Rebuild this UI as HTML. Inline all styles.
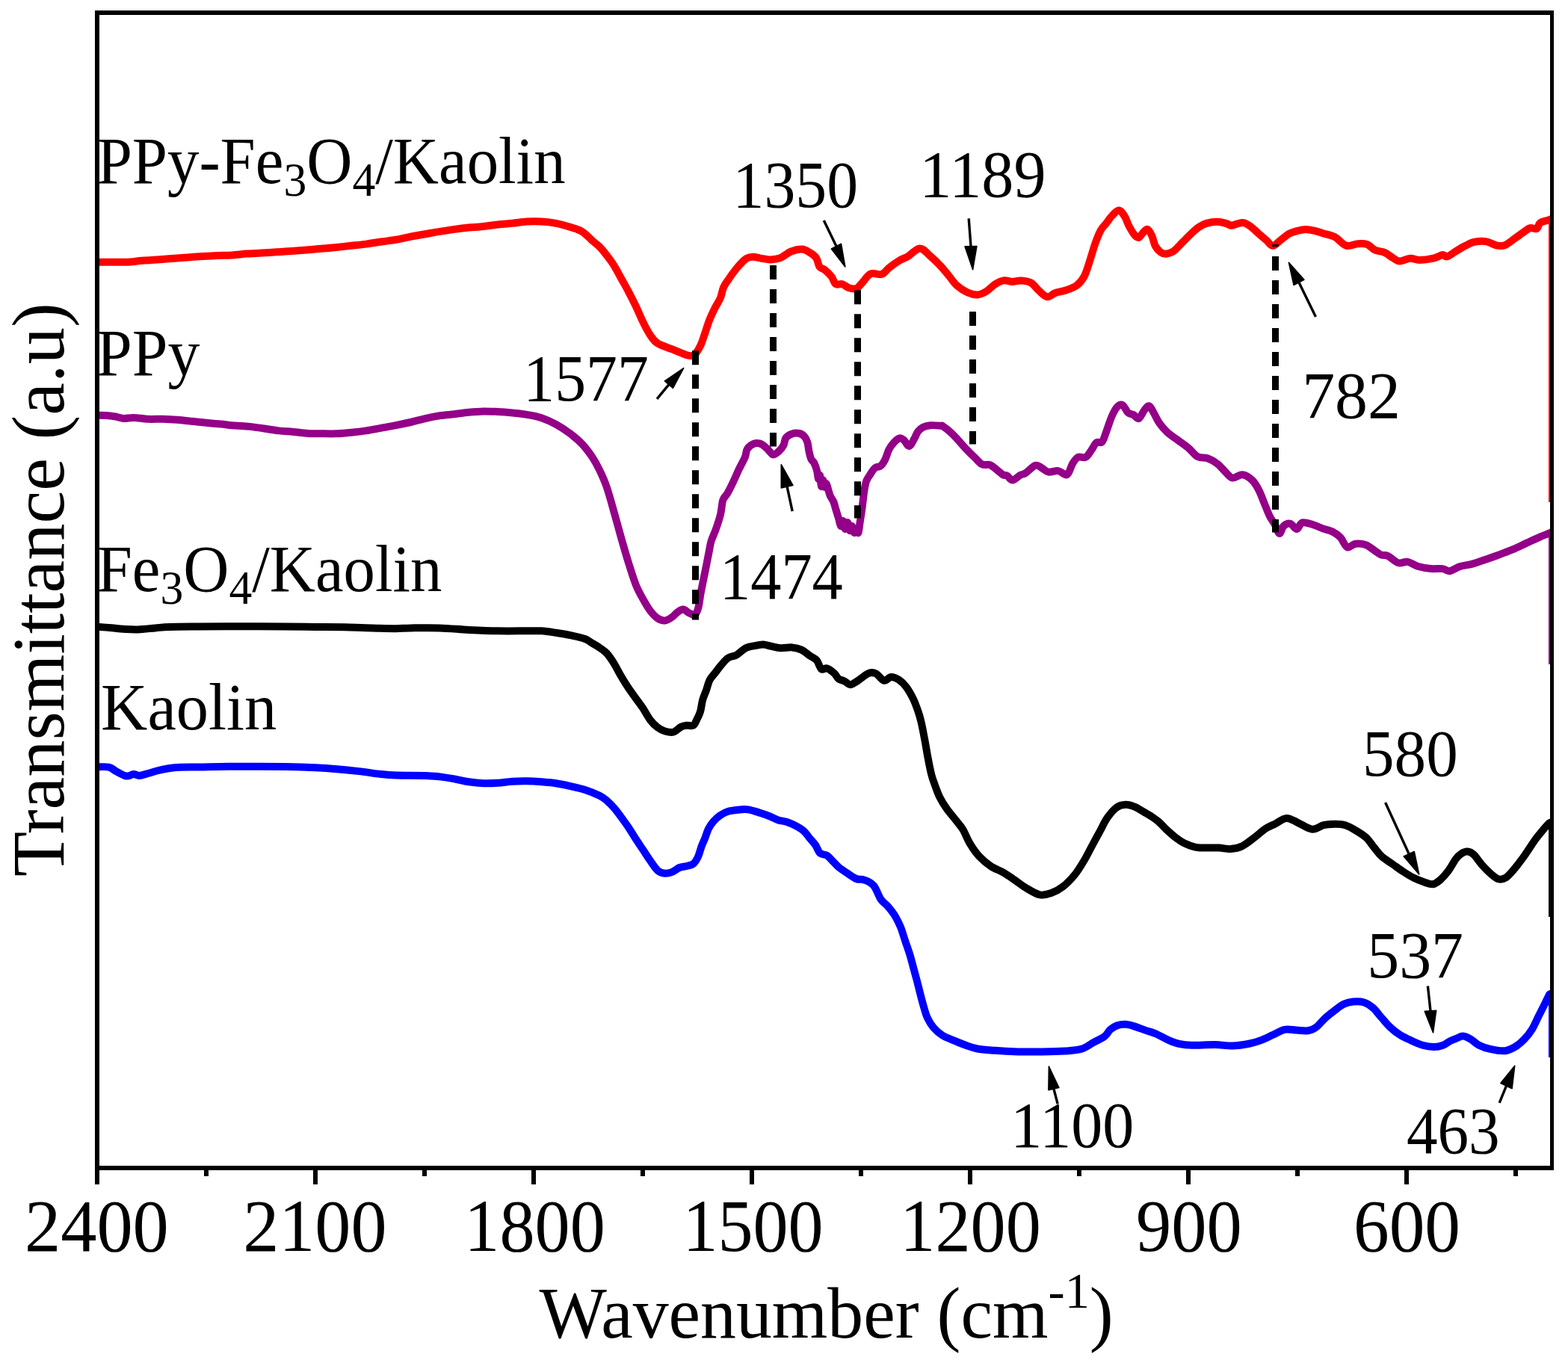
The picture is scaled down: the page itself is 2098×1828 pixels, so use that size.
<!DOCTYPE html>
<html><head><meta charset="utf-8"><title>FTIR spectra</title>
<style>
html,body{margin:0;padding:0;background:#fff;overflow:hidden;}
svg{display:block;}
text{font-family:"Liberation Serif","Times New Roman",serif;fill:#000;}
</style></head><body>
<svg width="2098" height="1828" viewBox="0 0 2098 1828">
<defs><clipPath id="pc"><rect x="133" y="20" width="1941" height="1540"/></clipPath></defs>
<rect width="2098" height="1828" fill="#fff"/>
<g clip-path="url(#pc)" fill="none" stroke-width="10" stroke-linejoin="round" stroke-linecap="butt">
<path d="M130.0,350.9 C133.3,350.9 143.3,350.7 150.0,350.7 C156.7,350.7 163.3,351.0 170.0,350.7 C176.7,350.4 183.3,349.3 190.0,348.8 C196.7,348.3 203.3,348.1 210.0,347.6 C216.7,347.1 223.3,346.4 230.0,345.9 C236.7,345.4 243.3,345.0 250.0,344.5 C256.7,344.0 263.3,343.5 270.0,343.1 C276.7,342.7 283.3,342.3 290.0,342.0 C296.7,341.7 303.3,341.8 310.0,341.4 C316.7,341.0 323.3,340.1 330.0,339.6 C336.7,339.1 343.3,338.9 350.0,338.5 C356.7,338.1 363.3,337.7 370.0,337.3 C376.7,336.9 383.3,336.5 390.0,336.0 C396.7,335.5 403.3,334.9 410.0,334.4 C416.7,333.9 423.3,333.4 430.0,332.8 C436.7,332.2 443.3,331.7 450.0,331.0 C456.7,330.3 463.3,329.5 470.0,328.8 C476.7,328.1 483.3,327.5 490.0,326.6 C496.7,325.7 503.3,324.5 510.0,323.5 C516.7,322.5 523.4,321.9 530.0,320.8 C536.6,319.7 542.9,318.0 549.4,316.7 C555.9,315.4 562.4,314.3 568.9,313.2 C575.4,312.1 581.8,310.9 588.3,309.9 C594.8,308.8 601.3,307.8 607.8,306.9 C614.3,306.0 620.7,305.2 627.2,304.6 C633.7,304.0 640.2,303.7 646.7,303.0 C653.2,302.3 659.6,301.2 666.1,300.5 C672.6,299.8 679.1,299.4 685.6,298.8 C692.1,298.2 698.5,297.0 705.0,296.6 C711.5,296.2 718.0,296.2 724.5,296.6 C731.0,297.0 737.4,297.6 743.9,298.8 C750.4,300.0 757.5,302.1 763.3,304.0 C769.1,305.9 774.0,306.9 778.9,309.9 C783.8,312.9 788.6,318.6 792.5,322.0 C796.4,325.4 799.0,327.0 802.2,330.3 C805.5,333.6 808.8,337.8 812.0,342.0 C815.2,346.2 818.5,350.4 821.7,355.6 C824.9,360.8 828.2,367.2 831.4,373.0 C834.6,378.8 837.9,384.4 841.1,390.6 C844.4,396.8 847.6,403.2 850.9,410.0 C854.1,416.8 857.4,424.9 860.6,431.4 C863.8,437.9 867.1,444.2 870.3,448.9 C873.5,453.6 875.1,456.5 880.0,459.6 C884.9,462.7 893.0,464.8 899.5,467.4 C906.0,470.0 914.4,473.8 918.9,475.2 C923.4,476.6 924.8,476.1 926.7,476.0 C928.6,475.9 928.4,476.7 930.2,474.3 C932.0,471.9 935.3,466.6 937.5,461.9 C939.7,457.1 941.3,451.4 943.3,445.8 C945.2,440.2 947.0,433.9 949.2,428.3 C951.4,422.7 954.1,417.2 956.5,412.3 C958.9,407.4 961.8,403.8 963.7,399.2 C965.6,394.6 966.2,389.0 968.1,384.6 C970.0,380.2 973.0,376.5 975.4,372.9 C977.8,369.2 980.3,365.8 982.7,362.7 C985.1,359.6 987.3,356.8 990.0,354.0 C992.7,351.2 995.9,347.6 998.8,345.9 C1001.7,344.2 1004.1,343.8 1007.5,343.8 C1010.9,343.8 1015.3,345.3 1019.2,345.9 C1023.1,346.5 1026.7,347.5 1030.8,347.4 C1034.9,347.3 1039.4,347.0 1044.0,345.2 C1048.6,343.4 1053.7,338.4 1058.5,336.5 C1063.3,334.6 1069.0,333.3 1073.1,333.5 C1077.2,333.7 1080.1,335.9 1083.3,337.9 C1086.5,339.8 1089.9,342.0 1092.1,345.2 C1094.3,348.4 1094.5,354.2 1096.5,356.9 C1098.5,359.6 1101.1,359.1 1103.8,361.3 C1106.5,363.5 1110.1,366.9 1112.5,370.0 C1114.9,373.1 1115.9,378.5 1118.3,380.2 C1120.7,381.9 1124.2,379.3 1127.1,380.2 C1130.0,381.1 1132.6,384.3 1135.8,385.3 C1139.0,386.3 1143.1,387.1 1146.0,386.0 C1148.9,384.9 1150.1,382.1 1153.3,378.8 C1156.5,375.5 1160.6,368.3 1165.0,366.4 C1169.4,364.4 1175.5,368.5 1179.6,367.1 C1183.7,365.8 1185.7,361.5 1189.8,358.3 C1193.9,355.1 1200.3,350.6 1204.4,348.1 C1208.5,345.6 1210.2,345.9 1214.6,343.3 C1219.0,340.7 1225.7,332.6 1230.6,332.4 C1235.5,332.2 1239.2,338.0 1243.8,341.9 C1248.4,345.8 1253.9,351.1 1258.3,355.7 C1262.7,360.3 1266.3,365.2 1270.0,369.6 C1273.7,374.0 1276.1,378.4 1280.2,382.0 C1284.3,385.6 1290.2,389.4 1294.8,391.5 C1299.4,393.6 1303.8,394.6 1307.9,394.4 C1312.0,394.1 1315.7,392.3 1319.6,390.0 C1323.5,387.7 1327.4,382.9 1331.3,380.5 C1335.2,378.1 1339.0,376.0 1342.9,375.4 C1346.8,374.8 1350.7,376.9 1354.6,376.9 C1358.5,376.9 1362.2,375.2 1366.3,375.4 C1370.4,375.6 1375.5,376.1 1379.4,378.3 C1383.3,380.5 1385.9,385.3 1389.6,388.5 C1393.2,391.7 1397.6,396.7 1401.3,397.3 C1405.0,397.9 1407.4,393.7 1411.5,392.2 C1415.6,390.7 1421.2,390.2 1426.0,388.5 C1430.8,386.8 1436.5,385.1 1440.6,382.0 C1444.7,378.9 1447.9,375.1 1450.8,369.6 C1453.7,364.1 1455.7,356.5 1458.1,349.2 C1460.5,341.9 1463.0,332.6 1465.4,325.8 C1467.8,319.0 1470.3,312.8 1472.7,308.3 C1475.1,303.8 1477.6,302.1 1480.0,299.0 C1482.4,295.9 1484.5,292.3 1487.3,289.4 C1490.1,286.5 1493.9,281.4 1496.8,281.4 C1499.7,281.4 1502.5,285.9 1504.8,289.4 C1507.1,292.9 1508.4,298.4 1510.6,302.5 C1512.8,306.6 1515.7,311.6 1517.9,314.2 C1520.1,316.8 1521.8,318.3 1523.7,317.8 C1525.7,317.3 1527.6,313.1 1529.6,311.3 C1531.5,309.5 1533.5,306.2 1535.4,306.9 C1537.4,307.6 1539.6,312.0 1541.3,315.6 C1543.0,319.2 1543.7,325.2 1545.6,328.8 C1547.5,332.4 1550.5,335.7 1552.9,337.5 C1555.3,339.3 1557.3,339.9 1560.2,339.7 C1563.1,339.4 1566.8,338.6 1570.4,336.0 C1574.1,333.4 1578.2,328.3 1582.1,324.4 C1586.0,320.5 1590.1,316.1 1593.8,312.7 C1597.5,309.3 1600.6,306.3 1604.0,304.0 C1607.4,301.7 1610.1,300.1 1614.2,298.9 C1618.3,297.7 1624.4,296.7 1628.8,296.7 C1633.2,296.7 1637.2,298.0 1640.4,298.9 C1643.6,299.8 1645.3,301.7 1647.7,301.8 C1650.1,301.9 1652.3,300.2 1655.0,299.6 C1657.7,299.0 1660.9,297.6 1663.8,298.1 C1666.7,298.6 1669.1,300.1 1672.5,302.5 C1675.9,304.9 1680.5,309.5 1684.2,312.7 C1687.9,315.9 1691.2,318.8 1694.4,321.5 C1697.6,324.2 1699.9,328.8 1703.1,328.8 C1706.2,328.8 1709.6,324.2 1713.3,321.5 C1717.0,318.8 1721.3,314.8 1725.0,312.7 C1728.7,310.6 1731.5,310.1 1735.2,309.1 C1738.9,308.1 1742.8,306.9 1746.9,306.9 C1751.0,306.9 1756.2,308.2 1760.0,309.1 C1763.8,310.0 1765.7,310.9 1770.0,312.2 C1774.3,313.5 1780.4,314.2 1785.6,316.9 C1790.8,319.6 1795.9,327.1 1801.1,328.6 C1806.3,330.2 1812.0,326.5 1816.7,326.2 C1821.4,325.9 1825.2,325.6 1829.1,327.0 C1833.0,328.4 1836.1,333.0 1840.0,334.8 C1843.9,336.6 1848.6,336.2 1852.5,337.9 C1856.4,339.6 1859.9,342.9 1863.3,344.9 C1866.7,346.8 1868.8,349.5 1872.7,349.6 C1876.6,349.7 1882.3,346.0 1886.7,345.7 C1891.1,345.4 1893.9,348.0 1899.1,348.0 C1904.3,348.0 1912.6,346.9 1917.8,345.7 C1923.0,344.5 1927.1,341.4 1930.2,341.0 C1933.3,340.6 1933.4,344.2 1936.5,343.3 C1939.6,342.4 1945.0,337.9 1948.9,335.6 C1952.8,333.3 1955.9,331.2 1959.8,329.3 C1963.7,327.4 1967.5,324.9 1972.2,323.9 C1976.9,322.9 1982.6,322.3 1987.8,323.1 C1993.0,323.9 1999.0,327.8 2003.4,328.6 C2007.8,329.4 2010.3,329.4 2014.2,327.8 C2018.1,326.2 2022.8,321.9 2026.7,319.2 C2030.6,316.5 2034.2,313.7 2037.6,311.4 C2041.0,309.1 2043.8,306.1 2046.9,305.2 C2050.0,304.3 2053.9,307.2 2056.2,306.0 C2058.5,304.8 2058.2,300.1 2060.9,298.2 C2063.6,296.2 2070.7,294.9 2072.6,294.3 L2077,292.3 L2077,672.0" stroke="#ff0000"/>
<path d="M130.0,555.8 C131.9,555.8 137.8,555.8 141.7,556.0 C145.6,556.2 149.4,556.6 153.3,557.3 C157.2,557.9 160.8,559.6 165.0,559.9 C169.2,560.2 173.1,558.8 178.6,558.9 C184.1,559.0 191.5,560.5 198.0,560.8 C204.5,561.1 211.0,560.6 217.5,560.8 C224.0,561.0 230.5,561.3 237.0,561.8 C243.5,562.3 249.9,563.1 256.4,563.8 C262.9,564.4 269.3,565.1 275.8,565.7 C282.3,566.3 288.8,567.0 295.3,567.6 C301.8,568.2 308.2,569.1 314.7,569.6 C321.2,570.1 327.7,570.2 334.2,570.9 C340.7,571.5 347.1,572.6 353.6,573.5 C360.1,574.4 366.6,575.7 373.1,576.4 C379.6,577.1 386.0,577.3 392.5,577.9 C399.0,578.5 405.5,579.5 412.0,579.9 C418.5,580.3 424.9,580.2 431.4,580.3 C437.9,580.4 444.4,580.6 450.9,580.3 C457.4,580.0 463.8,579.4 470.3,578.7 C476.8,578.1 483.2,577.4 489.7,576.4 C496.2,575.4 502.7,574.1 509.2,572.9 C515.7,571.7 521.9,570.6 528.6,569.3 C535.3,568.0 542.7,566.5 549.4,565.0 C556.1,563.5 562.4,561.6 568.9,560.1 C575.4,558.6 581.8,557.3 588.3,556.3 C594.8,555.3 601.3,555.0 607.8,554.3 C614.3,553.5 620.7,552.4 627.2,551.8 C633.7,551.1 640.2,550.5 646.7,550.4 C653.2,550.3 659.6,550.7 666.1,551.0 C672.6,551.3 679.1,551.8 685.6,552.4 C692.1,553.0 698.5,553.8 705.0,554.9 C711.5,556.0 718.0,557.0 724.5,559.2 C731.0,561.4 737.4,564.3 743.9,567.9 C750.4,571.5 757.5,576.2 763.3,580.6 C769.1,585.0 774.0,589.0 778.9,594.2 C783.8,599.4 788.6,605.9 792.5,611.7 C796.4,617.5 799.0,622.4 802.2,629.2 C805.5,636.0 808.8,643.1 812.0,652.5 C815.2,661.9 818.5,674.2 821.7,685.6 C824.9,697.0 828.2,709.3 831.4,720.6 C834.6,731.9 837.9,743.2 841.1,753.6 C844.4,764.0 847.6,774.7 850.9,782.8 C854.1,790.9 857.4,796.4 860.6,802.2 C863.8,808.0 867.1,813.6 870.3,817.8 C873.5,822.0 876.8,825.4 880.0,827.5 C883.2,829.6 886.5,830.7 889.7,830.4 C893.0,830.1 896.7,827.4 899.5,825.6 C902.3,823.8 903.9,821.1 906.3,819.4 C908.7,817.7 911.5,815.4 914.1,815.5 C916.7,815.6 919.3,819.0 921.9,820.2 C924.5,821.4 927.6,823.7 929.7,822.5 C931.8,821.3 933.1,817.8 934.4,813.1 C935.7,808.4 936.5,800.1 937.5,794.4 C938.5,788.7 939.6,784.0 940.6,778.8 C941.6,773.6 942.5,769.6 943.8,763.1 C945.1,756.6 947.1,746.2 948.4,739.7 C949.7,733.2 950.0,729.3 951.6,724.1 C953.2,718.9 955.7,714.4 957.8,708.4 C959.9,702.4 962.5,694.6 964.1,688.1 C965.7,681.6 965.7,674.1 967.2,669.4 C968.8,664.7 971.0,664.2 973.4,660.0 C975.8,655.8 978.7,649.9 981.3,644.4 C983.9,638.9 986.5,632.7 989.1,627.2 C991.7,621.7 995.1,616.0 996.9,611.6 C998.7,607.2 997.9,603.6 1000.0,600.6 C1002.1,597.6 1006.3,594.6 1009.4,593.6 C1012.5,592.6 1015.9,593.2 1018.8,594.4 C1021.7,595.6 1024.0,598.3 1026.6,600.6 C1029.2,602.9 1031.8,607.9 1034.4,608.4 C1037.0,608.9 1039.9,605.9 1042.2,603.8 C1044.5,601.7 1046.8,598.9 1048.4,595.9 C1050.0,592.9 1049.7,588.4 1051.6,585.8 C1053.5,583.2 1057.0,581.4 1060.0,580.4 C1063.0,579.4 1067.0,579.4 1069.7,580.0 C1072.5,580.6 1074.7,582.3 1076.5,584.3 C1078.3,586.3 1079.4,588.9 1080.4,592.1 C1081.4,595.4 1081.6,600.1 1082.4,603.8 C1083.2,607.5 1084.2,611.8 1085.3,614.4 C1086.4,617.0 1087.9,616.7 1089.2,619.3 C1090.5,621.9 1092.1,626.4 1093.1,630.0 C1094.1,633.6 1094.3,640.0 1095.0,641.0 C1095.7,642.0 1096.3,634.3 1097.0,636.0 C1097.7,637.7 1098.3,650.0 1099.0,651.0 C1099.7,652.0 1100.2,641.8 1101.0,642.0 C1101.8,642.2 1102.8,651.2 1103.5,652.0 C1104.2,652.8 1104.8,646.8 1105.5,647.0 C1106.2,647.2 1106.8,650.3 1107.6,653.0 C1108.4,655.7 1109.3,660.0 1110.6,663.1 C1111.9,666.2 1114.1,668.7 1115.4,671.8 C1116.7,674.9 1117.2,677.8 1118.3,681.5 C1119.4,685.2 1121.1,690.5 1122.2,694.2 C1123.3,698.0 1124.0,703.5 1125.0,704.0 C1126.0,704.5 1127.0,696.3 1128.0,697.0 C1129.0,697.7 1130.0,707.7 1131.0,708.0 C1132.0,708.3 1133.0,698.7 1134.0,699.0 C1135.0,699.3 1136.0,709.2 1137.0,710.0 C1138.0,710.8 1139.0,703.5 1140.0,704.0 C1141.0,704.5 1142.0,712.3 1143.0,713.0 C1144.0,713.7 1145.1,708.0 1146.0,708.0 C1146.9,708.0 1147.8,714.3 1148.5,713.0 C1149.2,711.7 1149.7,705.2 1150.5,700.0 C1151.3,694.8 1152.3,688.6 1153.3,681.5 C1154.3,674.4 1155.3,663.5 1156.3,657.2 C1157.3,650.9 1157.8,647.5 1159.2,643.6 C1160.7,639.7 1163.1,636.8 1165.0,633.9 C1166.9,631.0 1168.5,627.9 1170.8,626.1 C1173.1,624.3 1176.3,625.2 1178.6,623.2 C1180.9,621.2 1182.7,618.0 1184.5,614.4 C1186.3,610.8 1187.4,605.5 1189.3,601.8 C1191.2,598.1 1193.7,594.7 1196.1,592.1 C1198.5,589.5 1201.6,586.8 1203.9,586.3 C1206.2,585.8 1207.6,587.4 1209.7,589.2 C1211.8,591.0 1214.2,597.3 1216.5,597.0 C1218.8,596.7 1221.3,590.5 1223.3,587.2 C1225.2,584.0 1226.2,580.1 1228.2,577.5 C1230.2,574.9 1232.2,573.1 1235.0,571.7 C1237.8,570.3 1240.7,569.5 1244.7,569.2 C1248.8,568.9 1256.5,569.5 1259.3,569.7 C1262.1,569.9 1259.7,569.1 1261.5,570.3 C1263.3,571.5 1267.0,574.1 1270.2,576.9 C1273.4,579.7 1276.8,583.2 1280.4,587.1 C1284.1,591.0 1288.2,596.1 1292.1,600.2 C1296.0,604.3 1300.1,608.4 1303.8,611.9 C1307.5,615.4 1310.6,619.7 1314.0,621.4 C1317.4,623.1 1321.0,621.0 1324.2,622.1 C1327.4,623.2 1330.0,625.7 1332.9,627.9 C1335.8,630.1 1339.3,633.7 1341.7,635.2 C1344.1,636.7 1345.3,635.5 1347.5,636.7 C1349.7,637.9 1351.9,642.6 1354.8,642.5 C1357.7,642.4 1362.1,637.5 1365.0,635.9 C1367.9,634.3 1368.9,635.2 1372.3,633.0 C1375.7,630.8 1381.8,623.9 1385.4,622.8 C1389.1,621.7 1391.3,625.0 1394.2,626.5 C1397.1,628.0 1399.3,631.0 1402.9,631.6 C1406.5,632.2 1411.9,629.5 1416.0,630.1 C1420.1,630.7 1424.5,636.8 1427.7,635.2 C1430.9,633.6 1432.6,624.5 1435.0,620.6 C1437.4,616.7 1439.4,613.4 1442.3,611.9 C1445.2,610.4 1449.6,613.4 1452.5,611.9 C1455.4,610.4 1457.4,606.4 1459.8,603.1 C1462.2,599.8 1464.7,594.1 1467.1,592.2 C1469.5,590.3 1472.2,593.8 1474.4,591.5 C1476.6,589.2 1477.8,583.9 1480.0,578.3 C1482.2,572.7 1484.9,563.5 1487.3,557.9 C1489.7,552.3 1492.2,547.5 1494.6,544.8 C1497.0,542.1 1499.5,540.7 1501.9,541.9 C1504.3,543.1 1506.8,549.9 1509.2,552.1 C1511.6,554.3 1514.1,553.7 1516.5,555.0 C1518.9,556.3 1521.3,561.1 1523.7,560.1 C1526.1,559.1 1528.7,552.0 1531.0,549.2 C1533.3,546.4 1535.4,542.6 1537.6,543.3 C1539.8,544.0 1541.9,549.6 1544.2,553.5 C1546.5,557.4 1548.6,562.6 1551.5,566.7 C1554.4,570.8 1558.1,574.9 1561.7,578.3 C1565.3,581.7 1568.7,583.7 1573.3,587.1 C1577.9,590.5 1584.5,594.8 1589.4,598.8 C1594.3,602.8 1598.1,608.7 1602.5,611.1 C1606.9,613.5 1611.2,611.7 1615.6,613.3 C1620.0,614.9 1624.7,617.4 1628.8,620.6 C1632.9,623.8 1637.0,629.1 1640.4,632.3 C1643.8,635.5 1645.6,639.1 1649.2,639.6 C1652.8,640.1 1657.9,634.7 1662.3,635.2 C1666.7,635.7 1671.8,639.1 1675.4,642.5 C1679.1,645.9 1681.5,650.5 1684.2,655.6 C1686.9,660.7 1689.1,667.3 1691.5,673.1 C1693.9,678.9 1696.4,685.7 1698.8,690.6 C1701.2,695.5 1703.8,698.4 1706.0,702.3 C1708.2,706.2 1710.0,713.8 1711.9,714.0 C1713.9,714.2 1715.3,706.0 1717.7,703.8 C1720.1,701.6 1723.6,700.1 1726.5,700.8 C1729.4,701.5 1732.5,708.3 1735.2,708.1 C1737.9,707.9 1738.8,700.4 1742.5,699.4 C1746.2,698.4 1752.5,701.0 1757.1,702.3 C1761.7,703.6 1765.8,705.9 1770.0,707.4 C1774.2,708.9 1778.5,709.3 1782.4,711.3 C1786.3,713.2 1789.9,715.6 1793.3,719.1 C1796.7,722.6 1799.3,730.9 1802.7,732.3 C1806.1,733.7 1809.4,728.2 1813.6,727.7 C1817.8,727.2 1823.5,727.8 1827.6,729.2 C1831.7,730.6 1835.0,734.0 1838.4,736.2 C1841.8,738.4 1844.7,741.2 1847.8,742.5 C1850.9,743.8 1853.2,742.2 1857.1,744.0 C1861.0,745.8 1866.7,752.0 1871.1,753.3 C1875.5,754.6 1879.2,751.0 1883.6,751.8 C1888.0,752.6 1892.4,756.5 1897.6,758.0 C1902.8,759.5 1909.3,760.6 1914.7,761.1 C1920.1,761.6 1926.1,760.6 1930.2,761.1 C1934.3,761.6 1935.7,764.7 1939.6,764.2 C1943.5,763.7 1948.7,759.5 1953.6,758.0 C1958.5,756.5 1963.4,756.4 1969.1,754.9 C1974.8,753.4 1982.1,750.7 1987.8,748.7 C1993.5,746.8 1997.7,745.3 2003.4,743.2 C2009.1,741.1 2015.5,738.9 2022.0,736.2 C2028.5,733.5 2035.7,729.9 2042.2,726.9 C2048.7,723.9 2055.8,720.5 2060.9,718.3 C2066.0,716.1 2070.7,714.5 2072.6,713.7 L2077,711.7 L2077,889.0" stroke="#940088"/>
<path d="M130.0,838.9 C133.2,839.1 143.6,839.8 149.4,840.3 C155.2,840.8 159.2,841.4 165.0,841.8 C170.8,842.1 177.3,842.6 184.4,842.4 C191.5,842.2 200.7,841.0 207.8,840.4 C214.9,839.8 217.5,839.2 227.2,838.9 C236.9,838.6 249.9,838.6 266.1,838.5 C282.3,838.4 305.1,838.3 324.5,838.3 C343.9,838.3 366.6,838.4 382.8,838.5 C399.0,838.6 408.7,838.8 421.7,838.9 C434.7,839.0 449.3,839.1 460.6,839.3 C471.9,839.5 478.4,840.0 489.7,840.3 C501.0,840.6 518.6,841.2 528.6,841.2 C538.6,841.2 539.5,840.5 549.4,840.4 C559.3,840.3 575.3,840.0 588.3,840.4 C601.3,840.8 614.2,842.2 627.2,842.9 C640.2,843.5 653.1,844.1 666.1,844.3 C679.1,844.5 695.3,844.3 705.0,844.3 C714.7,844.3 718.0,843.9 724.5,844.3 C731.0,844.7 737.4,845.8 743.9,846.8 C750.4,847.8 756.8,848.7 763.3,850.1 C769.8,851.5 777.9,853.2 782.8,855.0 C787.7,856.8 789.3,858.8 792.5,860.8 C795.7,862.8 799.0,864.4 802.2,866.7 C805.5,869.0 808.8,870.8 812.0,874.4 C815.2,878.0 818.5,882.9 821.7,888.1 C824.9,893.3 828.2,900.1 831.4,905.6 C834.6,911.1 837.9,916.2 841.1,921.1 C844.4,926.0 847.6,930.2 850.9,934.7 C854.1,939.2 857.4,943.4 860.6,948.3 C863.8,953.2 867.1,959.7 870.3,963.9 C873.5,968.1 876.8,971.2 880.0,973.6 C883.2,976.0 886.1,977.5 889.7,978.5 C893.3,979.5 897.8,980.5 901.4,979.5 C905.0,978.5 908.2,974.2 911.1,972.7 C914.0,971.2 916.1,971.0 918.9,970.7 C921.7,970.4 925.5,972.0 927.8,970.7 C930.0,969.4 930.8,966.0 932.4,962.9 C934.0,959.8 935.8,956.4 937.1,952.0 C938.4,947.6 938.9,941.2 940.2,936.5 C941.5,931.8 943.3,928.4 944.9,924.0 C946.5,919.6 947.5,914.0 949.6,910.0 C951.7,906.0 954.7,903.3 957.3,899.9 C959.9,896.5 962.2,893.0 965.1,889.8 C968.0,886.5 971.0,882.6 974.4,880.4 C977.8,878.2 981.4,878.8 985.3,876.6 C989.2,874.4 993.6,869.3 997.8,867.2 C1001.9,865.1 1006.3,864.9 1010.2,864.1 C1014.1,863.3 1017.5,862.5 1021.1,862.6 C1024.7,862.7 1028.1,864.1 1032.0,864.9 C1035.9,865.7 1039.8,867.0 1044.5,867.2 C1049.2,867.5 1055.3,866.0 1060.0,866.4 C1064.7,866.8 1068.6,867.8 1072.5,869.6 C1076.4,871.4 1079.9,875.0 1083.3,877.3 C1086.7,879.6 1090.1,880.6 1092.7,883.6 C1095.3,886.6 1096.6,893.4 1098.9,895.2 C1101.2,897.0 1103.9,893.5 1106.7,894.4 C1109.5,895.3 1113.4,898.4 1116.0,900.7 C1118.6,903.1 1119.9,906.7 1122.2,908.5 C1124.5,910.3 1127.4,910.3 1130.0,911.6 C1132.6,912.9 1135.2,916.1 1137.8,916.2 C1140.4,916.3 1143.0,913.8 1145.6,912.3 C1148.2,910.8 1150.4,908.8 1153.3,906.9 C1156.2,905.0 1159.6,901.6 1162.7,900.7 C1165.8,899.8 1168.6,899.7 1172.0,901.4 C1175.4,903.1 1179.5,910.0 1182.9,910.8 C1186.3,911.6 1188.8,906.2 1192.2,906.1 C1195.6,906.0 1199.7,907.8 1203.1,910.0 C1206.5,912.2 1209.4,915.1 1212.5,919.3 C1215.6,923.4 1219.2,929.8 1221.8,934.9 C1224.3,940.0 1226.0,944.9 1227.8,950.0 C1229.6,955.1 1230.9,959.1 1232.4,965.6 C1234.0,972.1 1235.5,980.6 1237.1,988.9 C1238.7,997.2 1240.2,1007.3 1241.8,1015.3 C1243.3,1023.3 1244.9,1031.1 1246.4,1037.1 C1248.0,1043.1 1249.3,1046.2 1251.1,1051.1 C1252.9,1056.0 1254.7,1061.5 1257.3,1066.7 C1259.9,1071.9 1263.1,1077.0 1266.7,1082.2 C1270.3,1087.4 1275.5,1093.1 1279.1,1097.8 C1282.7,1102.5 1285.4,1105.0 1288.5,1110.2 C1291.6,1115.4 1294.2,1122.9 1297.8,1128.9 C1301.4,1134.9 1305.5,1141.0 1310.2,1146.0 C1314.9,1151.0 1320.3,1155.6 1325.8,1159.2 C1331.2,1162.8 1337.7,1164.8 1342.9,1167.8 C1348.1,1170.8 1352.0,1173.7 1356.9,1177.1 C1361.8,1180.5 1366.8,1184.6 1372.5,1188.0 C1378.2,1191.4 1385.4,1196.2 1391.1,1197.4 C1396.8,1198.6 1401.5,1196.8 1406.7,1195.0 C1411.9,1193.2 1417.0,1190.5 1422.2,1186.5 C1427.4,1182.5 1433.1,1176.6 1437.8,1170.9 C1442.5,1165.2 1446.3,1158.7 1450.2,1152.2 C1454.1,1145.7 1457.5,1138.7 1461.1,1132.0 C1464.7,1125.3 1468.6,1118.0 1472.0,1111.8 C1475.4,1105.6 1477.8,1099.9 1481.4,1094.7 C1485.0,1089.5 1489.7,1083.7 1493.8,1080.7 C1497.9,1077.7 1502.0,1076.9 1506.2,1076.8 C1510.4,1076.7 1514.6,1078.2 1518.7,1079.9 C1522.8,1081.6 1527.7,1084.9 1531.1,1086.9 C1534.5,1088.9 1536.1,1089.7 1539.3,1091.8 C1542.5,1093.9 1546.6,1096.5 1550.2,1099.6 C1553.8,1102.7 1557.2,1106.9 1561.1,1110.5 C1565.0,1114.1 1569.7,1118.3 1573.6,1121.3 C1577.5,1124.3 1580.0,1126.2 1584.4,1128.3 C1588.8,1130.4 1594.8,1132.8 1600.0,1133.8 C1605.2,1134.8 1610.4,1134.5 1615.6,1134.6 C1620.8,1134.7 1625.9,1134.3 1631.1,1134.6 C1636.3,1134.8 1641.5,1136.5 1646.7,1136.1 C1651.9,1135.7 1657.0,1134.7 1662.2,1132.2 C1667.4,1129.7 1672.6,1125.2 1677.8,1121.3 C1683.0,1117.4 1688.6,1112.0 1693.3,1108.9 C1698.0,1105.8 1701.1,1105.0 1705.8,1102.7 C1710.5,1100.4 1716.2,1095.2 1721.4,1094.9 C1726.6,1094.6 1731.2,1098.6 1736.9,1101.1 C1742.6,1103.6 1749.9,1109.2 1755.6,1109.7 C1761.3,1110.2 1765.9,1105.4 1771.1,1104.2 C1776.3,1103.0 1781.9,1102.7 1786.7,1102.7 C1791.5,1102.7 1795.4,1102.8 1800.0,1104.3 C1804.6,1105.8 1809.4,1108.6 1814.1,1111.4 C1818.8,1114.2 1824.0,1117.2 1828.2,1121.2 C1832.4,1125.2 1836.0,1131.1 1839.5,1135.3 C1843.0,1139.5 1845.3,1143.1 1849.3,1146.6 C1853.3,1150.1 1858.7,1153.2 1863.4,1156.5 C1868.1,1159.8 1872.8,1163.4 1877.5,1166.4 C1882.2,1169.5 1886.9,1172.5 1891.6,1174.8 C1896.3,1177.1 1901.5,1179.1 1905.7,1180.5 C1909.9,1181.9 1913.5,1183.8 1917.0,1183.3 C1920.5,1182.8 1923.4,1180.6 1926.9,1177.6 C1930.4,1174.5 1934.7,1169.7 1938.2,1165.0 C1941.7,1160.3 1945.2,1153.2 1948.0,1149.4 C1950.8,1145.6 1952.5,1144.0 1955.1,1142.4 C1957.7,1140.8 1960.7,1139.4 1963.5,1139.6 C1966.3,1139.8 1968.7,1140.8 1972.0,1143.8 C1975.3,1146.8 1979.5,1153.7 1983.3,1157.9 C1987.1,1162.1 1991.1,1166.2 1994.6,1169.2 C1998.1,1172.2 2001.1,1175.3 2004.4,1176.2 C2007.7,1177.1 2010.8,1176.9 2014.3,1174.8 C2017.8,1172.7 2021.4,1168.4 2025.6,1163.5 C2029.8,1158.6 2035.0,1151.8 2039.7,1145.2 C2044.4,1138.6 2049.6,1130.0 2053.8,1124.1 C2058.0,1118.2 2061.9,1113.8 2065.1,1110.0 C2068.3,1106.2 2071.5,1102.9 2072.8,1101.5 L2077,1099.5 L2077,1227.0" stroke="#000000"/>
<path d="M130.0,1026.4 C132.6,1026.4 141.4,1025.6 145.6,1026.6 C149.8,1027.5 151.4,1030.1 155.3,1032.1 C159.2,1034.1 165.0,1037.8 168.9,1038.5 C172.8,1039.2 175.7,1036.1 178.6,1036.0 C181.5,1035.9 183.2,1038.1 186.4,1037.9 C189.7,1037.7 193.6,1036.2 198.1,1035.0 C202.6,1033.8 207.8,1032.0 213.6,1030.7 C219.4,1029.4 224.3,1027.9 233.1,1027.2 C241.8,1026.5 254.1,1026.7 266.1,1026.4 C278.1,1026.2 292.0,1025.8 305.0,1025.7 C318.0,1025.6 330.9,1025.7 343.9,1025.7 C356.9,1025.7 369.8,1025.7 382.8,1025.9 C395.8,1026.2 410.4,1026.7 421.7,1027.2 C433.0,1027.8 441.2,1028.4 450.9,1029.2 C460.6,1030.0 470.3,1031.0 480.0,1032.1 C489.7,1033.2 500.9,1035.1 509.2,1036.0 C517.5,1036.9 520.0,1037.2 530.0,1037.5 C540.0,1037.8 559.2,1037.6 568.9,1037.9 C578.6,1038.2 581.8,1038.7 588.3,1039.4 C594.8,1040.2 601.3,1041.2 607.8,1042.4 C614.3,1043.6 620.7,1045.3 627.2,1046.3 C633.7,1047.3 640.2,1048.0 646.7,1048.2 C653.2,1048.5 659.6,1048.2 666.1,1047.8 C672.6,1047.4 679.1,1046.1 685.6,1045.7 C692.1,1045.3 698.5,1045.2 705.0,1045.3 C711.5,1045.4 718.0,1045.8 724.5,1046.3 C731.0,1046.8 737.4,1047.2 743.9,1048.2 C750.4,1049.2 756.8,1050.6 763.3,1052.1 C769.8,1053.5 776.3,1054.8 782.8,1056.9 C789.3,1059.0 797.3,1062.3 802.2,1064.7 C807.1,1067.1 808.8,1068.7 812.0,1071.5 C815.2,1074.3 818.5,1077.6 821.7,1081.3 C824.9,1085.0 828.2,1089.5 831.4,1093.9 C834.6,1098.3 837.9,1102.6 841.1,1107.5 C844.4,1112.4 847.6,1118.1 850.9,1123.1 C854.1,1128.1 857.4,1132.8 860.6,1137.6 C863.8,1142.4 867.1,1147.7 870.3,1152.2 C873.5,1156.8 876.8,1162.1 880.0,1164.9 C883.2,1167.7 886.5,1168.5 889.7,1168.8 C893.0,1169.1 896.2,1168.1 899.5,1166.8 C902.8,1165.5 906.0,1162.3 909.2,1161.0 C912.4,1159.7 915.8,1159.9 918.9,1159.0 C922.0,1158.1 925.3,1157.9 927.8,1155.8 C930.3,1153.7 932.2,1150.4 934.0,1146.5 C935.8,1142.6 937.2,1136.7 938.7,1132.5 C940.2,1128.3 941.8,1125.5 943.3,1121.6 C944.8,1117.7 946.2,1112.7 948.0,1109.1 C949.8,1105.5 951.6,1102.8 954.2,1099.8 C956.8,1096.8 960.2,1093.5 963.6,1091.2 C967.0,1088.9 970.0,1087.1 974.4,1085.8 C978.8,1084.5 985.6,1083.8 990.0,1083.4 C994.4,1083.0 997.0,1082.9 1000.9,1083.4 C1004.8,1083.9 1008.6,1085.2 1013.3,1086.6 C1018.0,1088.0 1024.2,1090.2 1028.9,1092.0 C1033.6,1093.8 1037.4,1096.1 1041.3,1097.4 C1045.2,1098.7 1048.3,1098.5 1052.2,1099.8 C1056.1,1101.1 1060.8,1103.1 1064.7,1105.2 C1068.6,1107.3 1072.5,1109.5 1075.6,1112.2 C1078.7,1114.9 1080.7,1118.5 1083.3,1121.6 C1085.9,1124.7 1088.8,1127.5 1091.1,1130.9 C1093.4,1134.3 1094.7,1139.5 1097.3,1141.8 C1099.9,1144.1 1103.8,1143.1 1106.7,1144.9 C1109.6,1146.7 1111.9,1150.1 1114.5,1152.7 C1117.1,1155.3 1119.1,1157.9 1122.2,1160.5 C1125.3,1163.1 1129.2,1165.6 1133.1,1168.2 C1137.0,1170.8 1141.7,1174.4 1145.6,1176.0 C1149.5,1177.6 1152.6,1176.1 1156.5,1177.6 C1160.4,1179.1 1165.2,1180.7 1168.9,1185.0 C1172.6,1189.3 1175.5,1198.9 1178.7,1203.6 C1181.9,1208.2 1184.9,1209.3 1188.0,1212.9 C1191.1,1216.5 1194.5,1220.6 1197.3,1225.3 C1200.1,1230.0 1202.8,1235.2 1205.1,1240.9 C1207.4,1246.6 1209.2,1253.4 1211.3,1259.6 C1213.4,1265.8 1215.8,1272.2 1217.6,1278.2 C1219.4,1284.2 1220.7,1289.6 1222.2,1295.3 C1223.8,1301.0 1225.3,1306.5 1226.9,1312.5 C1228.5,1318.5 1230.0,1325.1 1231.6,1331.1 C1233.1,1337.0 1234.7,1343.0 1236.2,1348.2 C1237.8,1353.4 1238.8,1357.8 1240.9,1362.2 C1243.0,1366.6 1245.3,1370.8 1248.7,1374.7 C1252.1,1378.6 1256.4,1382.6 1261.1,1385.6 C1265.8,1388.6 1271.5,1390.4 1276.7,1392.6 C1281.9,1394.8 1287.0,1397.0 1292.2,1398.8 C1297.4,1400.6 1301.3,1402.3 1307.8,1403.5 C1314.3,1404.7 1322.0,1405.1 1331.1,1405.8 C1340.2,1406.5 1351.8,1407.1 1362.2,1407.4 C1372.6,1407.7 1383.0,1407.5 1393.4,1407.4 C1403.8,1407.3 1415.4,1407.2 1424.5,1406.6 C1433.6,1405.9 1441.3,1405.5 1447.8,1403.5 C1454.3,1401.5 1458.4,1397.6 1463.4,1394.9 C1468.4,1392.2 1474.1,1389.9 1477.8,1387.1 C1481.5,1384.2 1482.8,1380.3 1485.6,1377.8 C1488.4,1375.3 1491.5,1373.5 1494.9,1372.3 C1498.3,1371.1 1502.2,1370.7 1505.8,1370.8 C1509.4,1370.9 1512.3,1371.8 1516.7,1373.1 C1521.1,1374.4 1527.0,1376.8 1532.2,1378.6 C1537.4,1380.4 1542.6,1381.8 1547.8,1384.0 C1553.0,1386.2 1558.1,1389.6 1563.3,1391.8 C1568.5,1394.0 1573.7,1396.0 1578.9,1397.2 C1584.1,1398.4 1586.7,1398.7 1594.5,1398.8 C1602.3,1398.9 1616.5,1397.9 1625.6,1398.0 C1634.7,1398.1 1641.1,1399.8 1648.9,1399.6 C1656.7,1399.3 1665.7,1397.8 1672.2,1396.5 C1678.7,1395.2 1682.6,1393.8 1687.8,1391.8 C1693.0,1389.8 1698.2,1387.1 1703.4,1384.8 C1708.6,1382.5 1713.7,1378.8 1718.9,1377.8 C1724.1,1376.8 1729.3,1378.3 1734.5,1378.6 C1739.7,1378.8 1745.6,1379.9 1750.0,1379.3 C1754.4,1378.7 1757.0,1377.5 1760.9,1374.7 C1764.8,1371.9 1768.7,1366.4 1773.4,1362.2 C1778.1,1358.0 1784.9,1352.8 1789.0,1349.7 C1793.1,1346.6 1794.6,1345.1 1798.1,1343.6 C1801.6,1342.1 1805.6,1341.0 1810.1,1340.6 C1814.6,1340.2 1820.7,1340.0 1825.2,1341.4 C1829.7,1342.8 1833.5,1345.6 1837.3,1348.9 C1841.1,1352.2 1844.0,1356.7 1847.8,1361.0 C1851.6,1365.3 1855.6,1370.5 1859.9,1374.5 C1864.2,1378.5 1868.6,1382.1 1873.4,1385.1 C1878.2,1388.1 1883.5,1390.3 1888.5,1392.6 C1893.5,1394.9 1898.6,1397.3 1903.6,1398.7 C1908.6,1400.1 1914.2,1400.9 1918.7,1400.9 C1923.2,1400.9 1927.2,1400.0 1930.7,1398.7 C1934.2,1397.5 1936.8,1394.9 1939.8,1393.4 C1942.8,1391.9 1945.8,1390.7 1948.8,1389.6 C1951.8,1388.5 1954.5,1386.3 1957.8,1386.6 C1961.1,1386.8 1964.9,1389.1 1968.4,1391.1 C1971.9,1393.1 1974.6,1396.6 1978.9,1398.7 C1983.2,1400.8 1988.2,1402.7 1994.0,1403.9 C1999.8,1405.2 2008.1,1406.7 2013.6,1406.2 C2019.1,1405.7 2022.9,1403.4 2027.2,1400.9 C2031.5,1398.4 2035.4,1395.0 2039.2,1391.1 C2043.0,1387.2 2046.5,1382.9 2049.8,1377.6 C2053.1,1372.3 2056.0,1365.0 2058.8,1359.5 C2061.6,1354.0 2064.0,1349.2 2066.4,1344.4 C2068.8,1339.6 2072.0,1333.1 2073.1,1330.8 L2077,1328.8 L2077,1415.0" stroke="#0000ff"/>
</g>
<g stroke="#000" stroke-width="9" stroke-dasharray="19 13" fill="none">
<line x1="930.5" y1="469.2" x2="930.5" y2="829.5" stroke-dashoffset="0.0"/>
<line x1="1034.5" y1="355.0" x2="1034.5" y2="597.5" stroke-dashoffset="0.0"/>
<line x1="1147.5" y1="388.2" x2="1147.5" y2="693.6" stroke-dashoffset="0.0"/>
<line x1="1301.5" y1="417.0" x2="1301.5" y2="594.4" stroke-dashoffset="0.0"/>
<line x1="1706.5" y1="327.0" x2="1706.5" y2="712.5" stroke-dashoffset="16.0"/>
</g>
<g stroke="#000" stroke-width="3.4" fill="#000">
<line x1="1102.3" y1="295.1" x2="1119.0" y2="329.6"/>
<polygon stroke-width="1.6" stroke-linejoin="round" points="1112.4,333.0 1130.8,357.0 1125.5,326.3"/>
<line x1="1296.2" y1="292.3" x2="1299.0" y2="329.7"/>
<polygon stroke-width="1.6" stroke-linejoin="round" points="1291.1,329.9 1301.6,360.8 1306.9,329.5"/>
<line x1="879.0" y1="533.9" x2="894.9" y2="514.6"/>
<polygon stroke-width="1.6" stroke-linejoin="round" points="889.4,509.9 914.7,492.6 900.4,519.4"/>
<line x1="1760.5" y1="424.1" x2="1738.0" y2="377.9"/>
<polygon stroke-width="1.6" stroke-linejoin="round" points="1731.1,381.5 1724.4,351.4 1744.9,374.2"/>
<line x1="1060.2" y1="684.2" x2="1053.1" y2="651.2"/>
<polygon stroke-width="1.6" stroke-linejoin="round" points="1045.3,653.0 1045.3,621.7 1060.9,649.4"/>
<line x1="1853.6" y1="1074.0" x2="1885.2" y2="1142.8"/>
<polygon stroke-width="1.6" stroke-linejoin="round" points="1878.2,1145.9 1898.7,1169.9 1892.3,1139.6"/>
<line x1="1910.4" y1="1319.5" x2="1914.0" y2="1352.8"/>
<polygon stroke-width="1.6" stroke-linejoin="round" points="1906.3,1353.4 1917.5,1381.8 1921.7,1352.2"/>
<line x1="1415.2" y1="1477.4" x2="1409.9" y2="1457.0"/>
<polygon stroke-width="1.6" stroke-linejoin="round" points="1402.9,1458.6 1403.4,1427.1 1416.9,1455.5"/>
<line x1="2006.2" y1="1475.9" x2="2015.5" y2="1453.2"/>
<polygon stroke-width="1.6" stroke-linejoin="round" points="2007.9,1449.6 2026.7,1426.3 2023.1,1456.7"/>
</g>
<g stroke="#000" stroke-width="6" fill="none" stroke-linecap="butt">
<path d="M127,17 H2079 M127,1563 H2079 M130,14 V1585" />
<path d="M2076.5,14 V1566" stroke-width="5"/>
<line x1="130" y1="1563" x2="130" y2="1585"/>
<line x1="422" y1="1563" x2="422" y2="1585"/>
<line x1="714" y1="1563" x2="714" y2="1585"/>
<line x1="1006" y1="1563" x2="1006" y2="1585"/>
<line x1="1298" y1="1563" x2="1298" y2="1585"/>
<line x1="1590" y1="1563" x2="1590" y2="1585"/>
<line x1="1882" y1="1563" x2="1882" y2="1585"/>
<line x1="276" y1="1563" x2="276" y2="1574"/>
<line x1="568" y1="1563" x2="568" y2="1574"/>
<line x1="860" y1="1563" x2="860" y2="1574"/>
<line x1="1152" y1="1563" x2="1152" y2="1574"/>
<line x1="1444" y1="1563" x2="1444" y2="1574"/>
<line x1="1736" y1="1563" x2="1736" y2="1574"/>
<line x1="2028" y1="1563" x2="2028" y2="1574"/>
</g>
<g>
<text transform="translate(129.71 244.50) scale(0.9635 1)" font-size="88">PPy-Fe<tspan font-size="64" dy="17">3</tspan><tspan dy="-17">O</tspan><tspan font-size="64" dy="17">4</tspan><tspan dy="-17">/Kaolin</tspan></text>
<text transform="translate(129.08 501.70) scale(0.9748 1)" font-size="88">PPy</text>
<text transform="translate(129.71 791.20) scale(0.9629 1)" font-size="88">Fe<tspan font-size="64" dy="17">3</tspan><tspan dy="-17">O</tspan><tspan font-size="64" dy="17">4</tspan><tspan dy="-17">/Kaolin</tspan></text>
<text transform="translate(135.06 976.00) scale(0.9813 1)" font-size="88">Kaolin</text>
<text transform="translate(980.56 277.31) scale(0.9302 0.9902)" font-size="90">1350</text>
<text transform="translate(1230.34 263.21) scale(0.9576 0.9869)" font-size="90">1189</text>
<text transform="translate(962.97 801.40) scale(0.9158 0.9900)" font-size="90">1474</text>
<text transform="translate(700.25 535.72) scale(0.9308 0.9770)" font-size="90">1577</text>
<text transform="translate(1742.15 559.02) scale(0.9758 0.9820)" font-size="90">782</text>
<text transform="translate(1823.07 1037.72) scale(0.9457 0.9820)" font-size="90">580</text>
<text transform="translate(1829.23 1308.01) scale(0.9543 0.9869)" font-size="90">537</text>
<text transform="translate(1352.32 1535.03) scale(0.9345 0.9689)" font-size="90">1100</text>
<text transform="translate(1881.95 1542.92) scale(0.9240 0.9836)" font-size="90">463</text>
<text transform="translate(32.94 1674.00) scale(0.9646 1.0015)" font-size="100">2400</text>
<text transform="translate(325.15 1674.03) scale(0.9620 0.9868)" font-size="100">2100</text>
<text transform="translate(621.32 1674.03) scale(0.9422 0.9868)" font-size="100">1800</text>
<text transform="translate(913.43 1674.03) scale(0.9412 0.9868)" font-size="100">1500</text>
<text transform="translate(1204.31 1674.03) scale(0.9428 0.9868)" font-size="100">1200</text>
<text transform="translate(1519.96 1674.00) scale(0.9455 1.0015)" font-size="100">900</text>
<text transform="translate(1810.99 1674.00) scale(0.9535 1.0015)" font-size="100">600</text>
<text transform="translate(721.40 1789.50) scale(0.9775 1)" font-size="98">Wavenumber (cm<tspan font-size="68" dy="-40">-1</tspan><tspan dy="40">)</tspan></text>
<text transform="translate(85.00 1173.00) rotate(-90) scale(1.0000 1)" font-size="98.5">Transmittance (a.u)</text>
</g>
</svg>
</body></html>
